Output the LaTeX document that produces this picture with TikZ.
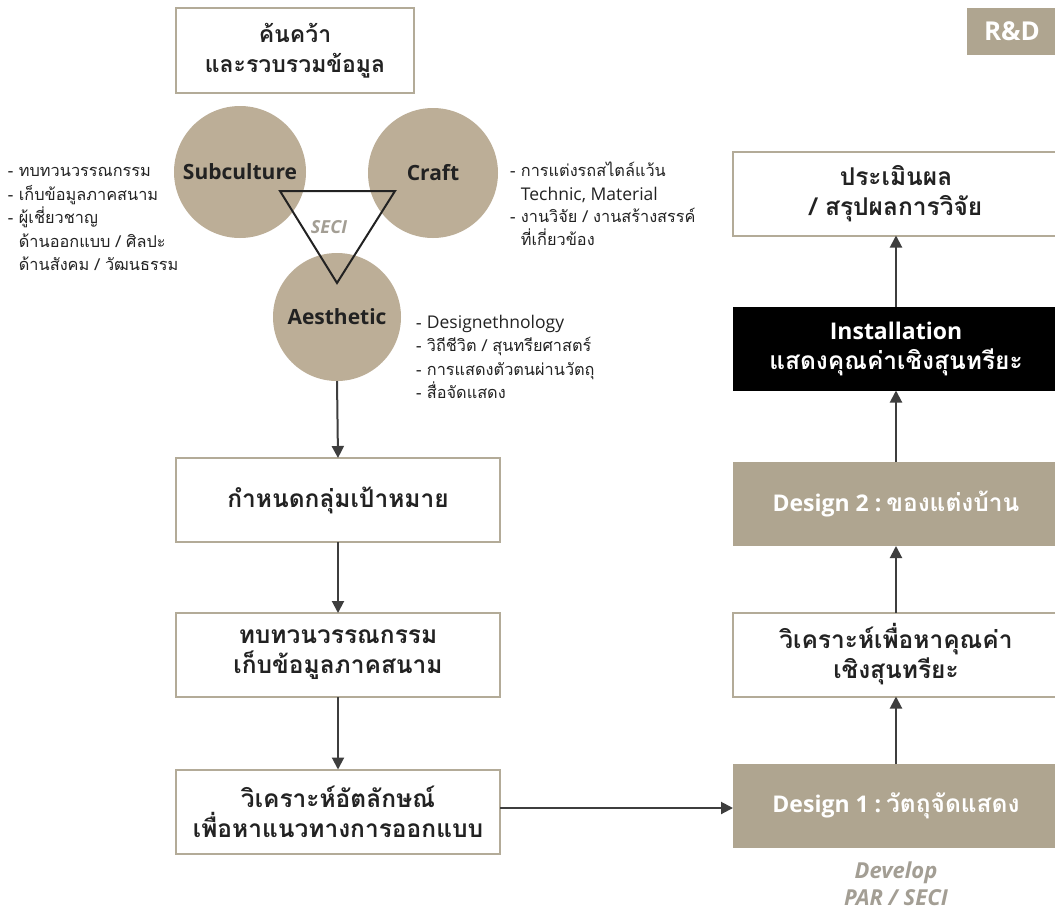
\documentclass[tikz,border=0pt]{standalone}
\usepackage{fontspec}
\setmainfont[Script=Thai]{Loma}
\newfontfamily\latinfont{Open Sans}
\usetikzlibrary{arrows.meta}

\definecolor{tan}{HTML}{BCAE97}
\definecolor{tanbox}{HTML}{AFA590}
\definecolor{boxline}{HTML}{B3AB98}
\definecolor{ink}{HTML}{222222}
\definecolor{arrowgray}{HTML}{3E3E3E}
\definecolor{softgray}{HTML}{A39E94}

% Latin words inside the boxes and inside the notes
\newcommand\boxlatin[1]{{\latinfont\fontsize{23}{30}\selectfont #1}}
\newcommand\notelatin[1]{{\latinfont\fontsize{17.5}{23}\selectfont #1}}

\begin{document}
\begin{tikzpicture}[x=1pt,y=-1pt,
  every node/.style={inner sep=0pt, outer sep=0pt},
  framebox/.style={draw=boxline, line width=2pt, fill=white, align=center,
    font=\fontsize{24.5}{30}\selectfont\bfseries, text=ink},
  leftbox/.style={framebox, minimum width=324pt, minimum height=84pt},
  rightbox/.style={framebox, minimum width=326pt, minimum height=84pt},
  filledbox/.style={rightbox, draw=none, fill=tanbox, text=white},
  darkbox/.style={rightbox, draw=none, fill=black, text=white},
  bubble/.style={circle, fill=tan, text=ink, font=\latinfont\bfseries\fontsize{21}{24}\selectfont},
  note/.style={anchor=west, text=ink, font=\fontsize{16.3}{23}\selectfont,
    text height=10pt, text depth=3pt},
  flow/.style={draw=arrowgray, line width=2pt,
    -{Triangle[length=12pt,width=12pt]}},
  softlabel/.style={text=softgray, font=\latinfont\bfseries\itshape\fontsize{18}{20}\selectfont},
  biglabel/.style={softlabel, font=\latinfont\bfseries\itshape\fontsize{22}{24}\selectfont},
]
\clip (0,0) rectangle (1055,911);
\useasboundingbox (0,0) rectangle (1055,911);
\fill[white] (0,0) rectangle (1055,911);

% research header
\node[framebox, minimum width=238pt, minimum height=85pt,
  font=\fontsize{23}{30}\selectfont\bfseries] (research) at (295,50.5)
  {ค้นคว้า\\และรวบรวมข้อมูล};

% three fields
\node[bubble, minimum size=132pt] (sub) at (240,172) {Subculture};
\node[bubble, minimum size=130pt] (craft) at (433,173) {Craft};
\node[bubble, minimum size=128pt] (aes) at (337,317) {Aesthetic};

% SECI triangle
\coordinate (t1) at (280,191);
\coordinate (t2) at (395,191);
\coordinate (t3) at (337,283);
\draw[ink, line width=2pt, line join=miter] (t1) -- (t2) -- (t3) -- cycle;
\node[softlabel] (seci) at (329,227) {SECI};

% notes beside the fields
\node[note] (s1) at (8,173) {- ทบทวนวรรณกรรม};
\node[note] (s2) at (8,197) {- เก็บข้อมูลภาคสนาม};
\node[note] (s3) at (8,220) {- ผู้เชี่ยวชาญ};
\node[note] (s4) at (8,244) {\phantom{- }ด้านออกแบบ / ศิลปะ};
\node[note] (s5) at (8,267) {\phantom{- }ด้านสังคม / วัฒนธรรม};

\node[note] (c1) at (510,173) {- การแต่งรถสไตล์แว้น};
\node[note] (c2) at (510,197) {\phantom{- }\notelatin{Technic, Material}};
\node[note] (c3) at (510,219) {- งานวิจัย / งานสร้างสรรค์};
\node[note] (c4) at (510,242) {\phantom{- }ที่เกี่ยวข้อง};

\node[note] (a1) at (416,325) {- \notelatin{Designethnology}};
\node[note] (a2) at (416,348) {- วิถีชีวิต / สุนทรียศาสตร์};
\node[note] (a3) at (416,372) {- การแสดงตัวตนผ่านวัตถุ};
\node[note] (a4) at (416,395) {- สื่อจัดแสดง};

% left column
\node[leftbox] (target) at (338,500) {กำหนดกลุ่มเป้าหมาย};
\node[leftbox] (review) at (338,655) {ทบทวนวรรณกรรม\\เก็บข้อมูลภาคสนาม};
\node[leftbox] (identity) at (338,811.5) {วิเคราะห์อัตลักษณ์\\เพื่อหาแนวทางการออกแบบ};

% right column
\node[filledbox] (design1) at (896,806) {\boxlatin{Design 1 :}\hspace{0.2em}วัตถุจัดแสดง};
\node[rightbox] (value) at (896,654.5) {วิเคราะห์เพื่อหาคุณค่า\\เชิงสุนทรียะ};
\node[filledbox] (design2) at (896,504) {\boxlatin{Design 2 :}\hspace{0.2em}ของแต่งบ้าน};
\node[darkbox] (install) at (896,348.5) {\boxlatin{Installation}\\แสดงคุณค่าเชิงสุนทรียะ};
\node[rightbox] (evaluate) at (896,193.5) {ประเมินผล\\/ สรุปผลการวิจัย};

\node[biglabel] (develop) at (896,873) {Develop};
\node[biglabel] (par) at (896,898) {PAR / SECI};

% tag
\node[fill=tanbox, text=white, minimum width=90pt, minimum height=47pt,
  font=\latinfont\bfseries\fontsize{26}{28}\selectfont] (rd) at (1012,31.5) {R\&D};

% flow
\draw[flow] (aes.south) -- (target.north);
\draw[flow] (target.south) -- (review.north);
\draw[flow] (review.south) -- (identity.north);
\draw[flow] (identity.east |- 0,808) -- (design1.west |- 0,808);
\draw[flow] (design1.north) -- (value.south);
\draw[flow] (value.north) -- (design2.south);
\draw[flow] (design2.north) -- (install.south);
\draw[flow] (install.north) -- (evaluate.south);
\end{tikzpicture}
\end{document}
